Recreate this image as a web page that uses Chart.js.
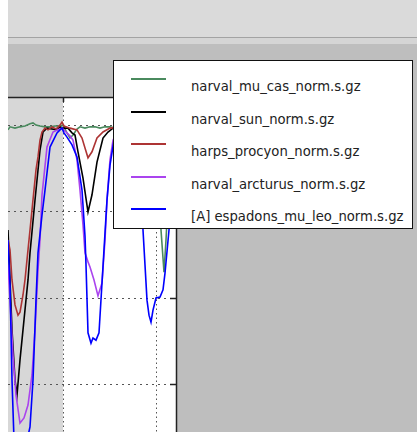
<!DOCTYPE html>
<html>
<head>
<meta charset="utf-8">
<script src="https://cdn.jsdelivr.net/npm/chart.js@4.4.1/dist/chart.umd.min.js"></script>
<style>
  html, body { margin: 0; padding: 0; }
  body { width: 417px; height: 432px; overflow: hidden; position: relative; background: #bebebe; font-family: "DejaVu Sans", sans-serif; }
  .toolbar { position: absolute; left: 0; top: 0; width: 417px; height: 37px; background: #dadada; }
  .sep { position: absolute; left: 0; top: 37px; width: 417px; height: 1px; background: #a3a3a3; }
  .band { position: absolute; left: 0; top: 38px; width: 417px; height: 6px; background: #d5d5d5; }
  .edge { position: absolute; left: 0; top: 0; width: 8px; height: 432px; background: #ffffff; }
  #wrap { position: absolute; left: 0; top: 0; width: 417px; height: 432px; }
  #legend { position: absolute; left: 113px; top: 60px; width: 300px; height: 169px; box-sizing: border-box;
            background: #fff; border: 1.5px solid #111; }
  #legend .swatch { position: absolute; left: 17px; width: 35px; height: 2px; }
  #legend .label { position: absolute; left: 77px; font-size: 13.2px; color: #222; white-space: nowrap; line-height: 15px; }
</style>
</head>
<body>
<div class="toolbar"></div>
<div class="sep"></div>
<div class="band"></div>
<div class="edge"></div>
<div id="wrap"><canvas id="spectra"></canvas></div>
<div id="legend"></div>
<script>
// plot-axis positions (same units as the horizontal axis)
const xGrid = [63, 156];
const fluxGrid = [0.4, 0.6, 0.8, 1.0];
const shadeEnd = 63;

const seriesNames = [
  'narval_mu_cas_norm.s.gz',
  'narval_sun_norm.s.gz',
  'harps_procyon_norm.s.gz',
  'narval_arcturus_norm.s.gz',
  '[A] espadons_mu_leo_norm.s.gz'
];
const seriesColors = ['#4a8a5e', '#000000', '#ad3434', '#aa44ee', '#0000ff'];

// narval_mu_cas
const muCasX = [8, 10, 15, 20, 25, 30, 33, 36, 40, 45, 50, 55, 60, 63, 67, 70, 73, 77, 80, 85, 90, 95, 100, 105, 110, 115, 120, 130, 140, 150, 156, 159, 161, 164, 166, 168, 171, 174, 177];
const muCasFlux = [0.991, 0.998, 0.995, 0.998, 1.000, 1.005, 1.007, 1.002, 1.000, 0.998, 0.998, 1.000, 1.000, 1.002, 0.984, 0.972, 0.979, 0.993, 0.998, 0.995, 0.998, 0.998, 0.995, 0.998, 0.998, 0.995, 0.998, 0.998, 0.998, 0.995, 0.991, 0.956, 0.758, 0.660, 0.735, 0.828, 0.944, 0.991, 0.995];

// narval_sun
const sunX = [8, 12, 15, 17, 20, 24, 28, 30, 35, 40, 43, 47, 52, 57, 60, 63, 68, 72, 75, 78, 83, 88, 92, 97, 103, 108, 113, 120, 140, 160, 177];
const sunFlux = [0.758, 0.526, 0.409, 0.374, 0.456, 0.549, 0.642, 0.705, 0.828, 0.944, 0.986, 0.995, 0.993, 0.991, 0.998, 0.995, 0.995, 0.984, 0.979, 0.940, 0.879, 0.800, 0.840, 0.916, 0.972, 0.986, 0.995, 0.998, 0.998, 0.998, 0.998];

// harps_procyon
const procyonX = [8, 10, 12, 15, 18, 20, 23, 25, 28, 30, 33, 36, 38, 40, 42, 45, 48, 52, 56, 60, 62, 64, 70, 77, 82, 85, 88, 92, 97, 103, 110, 120, 177];
const procyonFlux = [0.735, 0.712, 0.642, 0.584, 0.560, 0.567, 0.607, 0.642, 0.712, 0.758, 0.828, 0.898, 0.928, 0.967, 0.986, 0.995, 0.991, 0.998, 0.993, 1.002, 1.009, 1.000, 0.995, 0.991, 0.972, 0.949, 0.926, 0.940, 0.972, 0.986, 0.995, 0.998, 0.998];

// narval_arcturus
const arcturusX = [8, 10, 13, 16, 20, 24, 28, 32, 35, 38, 40, 42, 47, 53, 58, 62, 66, 70, 73, 77, 80, 83, 85, 88, 90, 94, 98, 102, 105, 107, 110, 113, 118, 125, 177];
const arcturusFlux = [0.677, 0.595, 0.467, 0.374, 0.309, 0.321, 0.351, 0.421, 0.526, 0.665, 0.735, 0.840, 0.951, 0.986, 0.991, 0.995, 0.986, 0.977, 0.967, 0.921, 0.851, 0.770, 0.705, 0.684, 0.672, 0.642, 0.605, 0.635, 0.735, 0.828, 0.921, 0.967, 0.991, 0.995, 0.995];

// espadons_mu_leo
const muLeoX = [8, 10, 12, 14, 20, 26, 30, 33, 36, 38, 42, 45, 50, 57, 60, 62, 64, 67, 72, 77, 82, 85, 86, 88, 91, 93, 96, 99, 102, 105, 107, 110, 114, 120, 130, 138, 141, 143, 147, 149, 151, 153, 156, 160, 163, 165, 169, 172, 175, 177];
const muLeoFlux = [0.735, 0.630, 0.409, 0.270, 0.223, 0.258, 0.300, 0.409, 0.595, 0.705, 0.793, 0.851, 0.951, 0.984, 0.991, 0.995, 0.984, 0.974, 0.956, 0.928, 0.851, 0.744, 0.677, 0.519, 0.495, 0.507, 0.502, 0.519, 0.635, 0.751, 0.828, 0.909, 0.967, 0.991, 0.995, 0.986, 0.874, 0.758, 0.595, 0.560, 0.544, 0.572, 0.600, 0.602, 0.619, 0.658, 0.758, 0.898, 0.979, 0.991];

const xs = [muCasX, sunX, procyonX, arcturusX, muLeoX];
const ys = [muCasFlux, sunFlux, procyonFlux, arcturusFlux, muLeoFlux];

const datasets = seriesNames.map((name, i) => ({
    label: name,
    data: xs[i].map((x, j) => ({ x: x, y: ys[i][j] })),
    borderColor: seriesColors[i],
    borderWidth: 1.6,
    pointRadius: 0,
    tension: 0,
    fill: false,
    order: seriesNames.length - i // later series on top, like matplotlib
}));

// white axes face with the grey shaded span, plus spines and inward ticks
const axesFace = {
    id: 'axesFace',
    beforeDraw(chart) {
        const { ctx, chartArea: a, scales } = chart;
        ctx.save();
        ctx.fillStyle = '#ffffff';
        ctx.fillRect(a.left, a.top, a.right - a.left, a.bottom - a.top);
        ctx.fillStyle = '#d7d7d7';
        const xe = scales.x.getPixelForValue(shadeEnd);
        ctx.fillRect(a.left, a.top, xe - a.left, a.bottom - a.top);
        ctx.restore();
    },
    afterDraw(chart) {
        const { ctx, chartArea: a, scales } = chart;
        ctx.save();
        ctx.strokeStyle = '#222';
        ctx.lineWidth = 1.5;
        ctx.beginPath();
        ctx.moveTo(a.left, a.top + 0.5);
        ctx.lineTo(a.right, a.top + 0.5);
        ctx.moveTo(a.right - 0.5, a.top);
        ctx.lineTo(a.right - 0.5, a.bottom);
        fluxGrid.forEach(v => {
            const y = Math.round(scales.y.getPixelForValue(v)) + 0.5;
            ctx.moveTo(a.right, y);
            ctx.lineTo(a.right - 7, y);
        });
        xGrid.forEach(v => {
            const x = Math.round(scales.x.getPixelForValue(v)) + 0.5;
            ctx.moveTo(x, a.top);
            ctx.lineTo(x, a.top + 5);
        });
        ctx.stroke();
        ctx.restore();
    }
};

new Chart(document.getElementById('spectra'), {
    type: 'line',
    data: { datasets: datasets },
    options: {
        responsive: true,
        maintainAspectRatio: false,
        animation: false,
        events: [],
        layout: { padding: { left: 8, top: 97, right: 240, bottom: 0 } },
        plugins: {
            legend: { display: false },
            tooltip: { enabled: false }
        },
        scales: {
            x: {
                type: 'linear',
                min: 8,
                max: 177,
                afterBuildTicks: (axis) => { axis.ticks = xGrid.map(v => ({ value: v })); },
                ticks: { display: false },
                grid: { color: '#555', lineWidth: 1, drawTicks: false },
                border: { display: false, dash: [1.5, 3] }
            },
            y: {
                type: 'linear',
                min: 0.2884,
                max: 1.0674,
                afterBuildTicks: (axis) => { axis.ticks = fluxGrid.map(v => ({ value: v })); },
                ticks: { display: false },
                grid: { color: '#555', lineWidth: 1, drawTicks: false },
                border: { display: false, dash: [2, 4] }
            }
        }
    },
    plugins: [axesFace]
});

// legend box built from the datasets
const legendBox = document.getElementById('legend');
seriesNames.forEach((name, i) => {
    const top = 17 + i * 32.5;
    const sw = document.createElement('div');
    sw.className = 'swatch';
    sw.style.top = top + 'px';
    sw.style.background = seriesColors[i];
    legendBox.appendChild(sw);
    const lb = document.createElement('div');
    lb.className = 'label';
    lb.style.top = (top + 1) + 'px';
    lb.textContent = name;
    legendBox.appendChild(lb);
});
</script>
</body>
</html>
